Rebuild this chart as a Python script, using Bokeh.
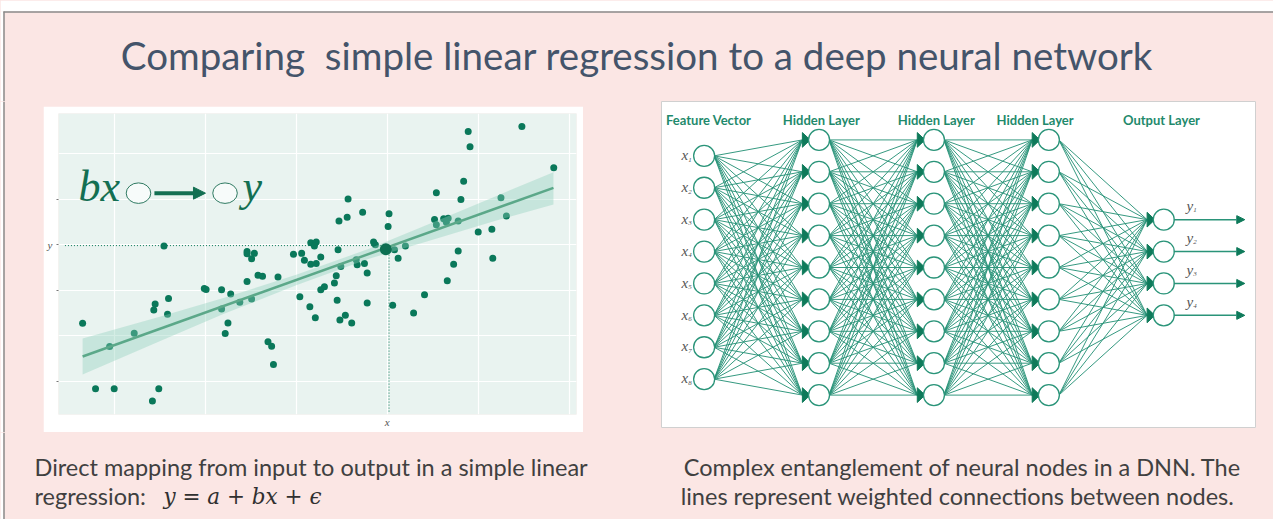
import numpy as np
from bokeh.plotting import figure
from bokeh.models import Range1d, FixedTicker, ColumnDataSource, Arrow, NormalHead, Spacer
from bokeh.layouts import column, row
from bokeh.core.properties import value
from bokeh.embed import file_html
from bokeh.resources import INLINE

# ---------------- data ----------------
title_text = "Comparing\u00a0 simple linear regression to a deep neural network"
caption_left_1 = "Direct mapping from input to output in a simple linear"
caption_left_2 = "regression: "
caption_left_math = "y = a + bx + \u03f5"
caption_right_1 = "Complex entanglement of neural nodes in a DNN. The"
caption_right_2 = "lines represent weighted connections between nodes."

scatter_x = [0.653, 0.795, 1.0, 0.95, 1.22, 1.42, 1.49, 1.435, 1.45, 1.547,
             1.597, 1.586, 1.99, 2.01, 2.18, 2.28, 2.18, 2.38, 2.25, 2.22,
             2.46, 2.51, 2.46, 2.46, 2.54, 2.51, 2.58, 2.63, 2.80, 2.69,
             2.73, 2.75, 2.97, 3.06, 3.09, 3.16, 3.22, 3.27, 3.16, 3.22,
             3.20, 3.04, 3.15, 3.21, 3.27, 3.31, 3.42, 3.44, 3.49, 3.46,
             3.45, 3.48, 3.54, 3.61, 3.47, 3.56, 3.57, 3.73, 3.66, 3.67,
             3.75, 3.78, 3.78, 3.85, 3.87, 4.02, 4.01, 4.08, 4.12, 4.06,
             4.20, 4.29, 4.41, 4.52, 4.54, 4.62, 4.67, 4.65, 4.54, 4.78,
             4.66, 4.73, 4.78, 4.81, 4.84, 4.89, 4.91, 5.0, 5.15, 5.16,
             5.25, 5.31, 5.48, 5.83]
scatter_y = [1.279, -0.161, -0.161, 0.767, 1.06, -0.43, -0.16, 1.57, 1.70, 2.97,
             1.82, 1.476, 2.04, 2.02, 2.01, 1.92, 1.59, 1.74, 1.28, 1.05,
             2.19, 1.81, 2.85, 2.80, 2.81, 2.69, 2.33, 2.31, 2.29, 0.87,
             0.77, 0.37, 2.79, 2.81, 2.66, 2.57, 2.59, 2.73, 3.04, 3.06,
             2.97, 1.86, 1.64, 1.40, 2.01, 2.08, 2.16, 2.32, 2.52, 2.89,
             1.78, 1.35, 1.45, 1.28, 3.52, 3.60, 4.0, 3.71, 2.67, 2.56,
             2.59, 2.38, 1.72, 3.06, 3.0, 3.68, 3.40, 2.89, 2.70, 1.67,
             2.97, 1.50, 1.90, 3.55, 3.44, 3.57, 3.58, 3.49, 4.14, 3.52,
             2.21, 2.57, 2.86, 3.99, 4.39, 5.48, 5.15, 3.28, 3.34, 2.70,
             4.03, 3.63, 5.59, 4.69]

fit_x = [0.653, 5.827]
fit_y = [0.548, 4.247]

band_x = [0.653, 1.5, 2.2, 3.0, 3.8, 4.6, 5.2, 5.827]
band_lo = [0.154, 0.88, 1.48, 2.11, 2.69, 3.17, 3.53, 3.88]
band_hi = [0.943, 1.42, 1.83, 2.34, 2.91, 3.57, 4.07, 4.59]

focus_x = [3.985]
focus_y = [2.90]
cross_x = 4.02
cross_y = 2.98

y_ticks = [0, 2, 3, 4]
y_tick_labels = {0: "", 2: "", 3: "y", 4: ""}
x_ticks = [4]
x_tick_labels = {4: "x"}
grid_x = [1, 2, 3, 4, 5, 6]
grid_y = [0, 1, 2, 3, 4, 5]

layer_sizes = [8, 9, 9, 9, 4]
layer_names = ["Feature Vector", "Hidden Layer", "Hidden Layer", "Hidden Layer", "Output Layer"]
layer_name_shift = [0.04, 0.02, 0.02, -0.12, -0.02]
input_subscripts = ["1", "2", "3", "4", "5", "6", "7", "8"]
output_subscripts = ["1", "2", "3", "4"]

# ---------------- styles ----------------
PINK = "#fbe6e4"
TEAL = "#2a9479"
DARK = "#0e7a5a"
TXT = "#404040"
BORDER = "#8a8a8a"
LIFT = 0.32   # em; compensates where the renderer puts the alphabetic baseline

def lift(px):
    return -round(LIFT * px, 1)

def blank(width, height, xr, yr, bg):
    p = figure(width=width, height=height, x_range=xr, y_range=yr,
               x_axis_type=None, y_axis_type=None, toolbar_location=None,
               output_backend="svg", min_border=0, outline_line_color=None,
               background_fill_color=bg, border_fill_color=bg)
    return p

def left_edge(p, y0, y1):
    p.quad(left=[0], right=[3], top=[y0], bottom=[y1], fill_color="white", line_color=None)
    p.line([3.5, 3.5], [y0, y1], line_color=BORDER, line_width=1.5)

# ---------------- header ----------------
head = blank(1273, 101, Range1d(0, 1273), Range1d(101, 0), PINK)
head.quad(left=[0], right=[1273], top=[0], bottom=[11], fill_color="white", line_color=None)
left_edge(head, 11, 101)
head.line([3, 1273], [11.5, 11.5], line_color=BORDER, line_width=1.5)
head.text(x=[636.5], y=[66.7], text=[title_text], text_font=value("Lato"),
          text_font_size="38.5px", text_color="#44546a", text_align="center",
          text_baseline="alphabetic", y_offset=lift(38.5))

# ---------------- scatter panel ----------------
sc = figure(width=540, height=326, x_range=Range1d(0.388, 6.080), y_range=Range1d(-0.724, 5.877),
            toolbar_location=None, output_backend="svg",
            min_border_left=15, min_border_right=7, min_border_top=7, min_border_bottom=18,
            background_fill_color="#e9f3f0", border_fill_color="white", outline_line_color=None)
sc.xgrid.ticker = FixedTicker(ticks=grid_x)
sc.ygrid.ticker = FixedTicker(ticks=grid_y)
sc.grid.grid_line_color = "white"
sc.grid.grid_line_width = 1.2
for ax, ticks, labels in ((sc.yaxis[0], y_ticks, y_tick_labels), (sc.xaxis[0], x_ticks, x_tick_labels)):
    ax.ticker = FixedTicker(ticks=ticks)
    ax.major_label_overrides = labels
    ax.axis_line_color = None
    ax.minor_tick_line_color = None
    ax.major_tick_in = 0
    ax.major_tick_line_color = "#777777"
    ax.major_label_text_font = "Liberation Serif"
    ax.major_label_text_font_style = "italic"
    ax.major_label_text_font_size = "11px"
    ax.major_label_text_color = "#555555"
sc.yaxis[0].major_tick_out = 2
sc.yaxis[0].major_label_standoff = 4
sc.xaxis[0].major_tick_out = 0
sc.xaxis[0].major_label_standoff = 1

sc.line([0.459, cross_x], [cross_y, cross_y], line_color=DARK, line_width=1, line_dash="1 2")
sc.line([cross_x, cross_x], [cross_y, -0.70], line_color=DARK, line_width=1, line_dash="1 2")
sc.scatter(scatter_x, scatter_y, size=7, fill_color="#0a785a", line_color=None)
sc.varea(x=band_x, y1=band_lo, y2=band_hi, fill_color="#8fd0bb", fill_alpha=0.38)
sc.line(fit_x, fit_y, line_color="#5ba889", line_width=2.5)
sc.scatter(focus_x, focus_y, size=12, fill_color="#0d6f52", line_color=None)

# "bx -> y" annotation
sc.text(x=[0.608], y=[3.97], text=["bx"], text_font=value("Liberation Serif"), text_font_style="italic",
        text_font_size="44px", text_color="#136f52", text_baseline="alphabetic", y_offset=lift(44))
sc.ellipse(x=[1.267, 2.218], y=[4.13, 4.13], width=0.27, height=0.45,
           fill_color="#f7fbfa", line_color="#2f7a62", line_width=1)
sc.add_layout(Arrow(end=NormalHead(size=12, fill_color="#136f52", line_color="#136f52"),
                    x_start=1.442, y_start=4.13, x_end=2.003, y_end=4.13,
                    line_color="#136f52", line_width=4))
sc.text(x=[2.41], y=[3.97], text=["y"], text_font=value("Liberation Serif"), text_font_style="italic",
        text_font_size="44px", text_color="#136f52", text_baseline="alphabetic", y_offset=lift(44))

# ---------------- neural network panel ----------------
nn = figure(width=595, height=327, x_range=Range1d(-0.371, 4.807), y_range=Range1d(-5.047, 5.204),
            x_axis_type=None, y_axis_type=None, toolbar_location=None, output_backend="svg",
            min_border=0, outline_line_color="#d0d0d0", background_fill_color="white",
            border_fill_color="white")
R = 10 / 114.9      # node radius in layer units
TIP = 0.145         # where incoming lines meet the arrowheads

layer_nodes = [[(n - 1) / 2 - i for i in range(n)] for n in layer_sizes]
x0s, y0s, x1s, y1s = [], [], [], []
for l in range(len(layer_sizes) - 1):
    for ya in layer_nodes[l]:
        for yb in layer_nodes[l + 1]:
            x0s.append(l + R); y0s.append(ya)
            x1s.append(l + 1 - TIP); y1s.append(yb)
nn.segment(x0=x0s, y0=y0s, x1=x1s, y1=y1s, line_color=TEAL, line_width=1, line_alpha=0.95)

wx, wy = [], []
for l in range(1, len(layer_sizes)):
    for yb in layer_nodes[l]:
        wx.append([l - TIP, l - TIP, l - R + 0.01])
        wy.append([yb + 0.23, yb - 0.23, yb])
nn.patches(wx, wy, fill_color=DARK, line_color=DARK, line_width=1)

nx = [l for l, ys in enumerate(layer_nodes) for _ in ys]
ny = [y for ys in layer_nodes for y in ys]
nn.scatter(nx, ny, size=21, fill_color="white", line_color=TEAL, line_width=1.3)

out_l = len(layer_sizes) - 1
arrow_src = ColumnDataSource(dict(x0=[out_l + R] * layer_sizes[-1], x1=[out_l + 0.705] * layer_sizes[-1],
                                  y=layer_nodes[-1]))
nn.add_layout(Arrow(end=NormalHead(size=8, fill_color=DARK, line_color=DARK), source=arrow_src,
                    x_start="x0", y_start="y", x_end="x1", y_end="y", line_color=TEAL, line_width=1.5))

nn.text(x=[l + s for l, s in enumerate(layer_name_shift)], y=[4.50] * len(layer_names), text=layer_names,
        text_font=value("Lato"), text_font_style="bold", text_font_size="13px", text_color="#1f8a6c",
        text_align="center", text_baseline="alphabetic", y_offset=lift(13))

nn.text(x=[-0.139] * layer_sizes[0], y=layer_nodes[0], text=["x"] * layer_sizes[0],
        text_font=value("Liberation Serif"), text_font_style="italic", text_font_size="15px",
        text_color="#555555", text_align="right", text_baseline="alphabetic", y_offset=4 + lift(15))
nn.text(x=[-0.139] * layer_sizes[0], y=layer_nodes[0], text=input_subscripts,
        text_font=value("Liberation Serif"), text_font_style="italic", text_font_size="7px",
        text_color="#555555", text_align="left", text_baseline="alphabetic", y_offset=6 + lift(7))
nn.text(x=[out_l + 0.198] * layer_sizes[-1], y=layer_nodes[-1], text=["y"] * layer_sizes[-1],
        text_font=value("Liberation Serif"), text_font_style="italic", text_font_size="15px",
        text_color="#555555", text_align="left", text_baseline="alphabetic", y_offset=-9 + lift(15))
nn.text(x=[out_l + 0.256] * layer_sizes[-1], y=layer_nodes[-1], text=output_subscripts,
        text_font=value("Liberation Serif"), text_font_style="italic", text_font_size="7px",
        text_color="#555555", text_align="left", text_baseline="alphabetic", y_offset=-7 + lift(7))

# ---------------- captions ----------------
foot = blank(1273, 87, Range1d(0, 1273), Range1d(519, 432), PINK)
left_edge(foot, 432, 519)
foot.text(x=[34, 34], y=[474, 502.5], text=[caption_left_1, caption_left_2], text_font=value("Lato"),
          text_font_size="23.5px", text_color=TXT, text_baseline="alphabetic", y_offset=lift(23.5))
foot.text(x=[163], y=[502.5], text=[caption_left_math], text_font=value("DejaVu Serif"),
          text_font_style="italic", text_font_size="21.5px", text_color="#303030",
          text_baseline="alphabetic", y_offset=lift(21.5))
foot.text(x=[962, 957], y=[474, 502.5], text=[caption_right_1, caption_right_2], text_font=value("Lato"),
          text_font_size="23.5px", text_color=TXT, text_align="center", text_baseline="alphabetic",
          y_offset=lift(23.5))

# ---------------- layout ----------------
lpad = blank(43, 331, Range1d(0, 43), Range1d(432, 101), PINK)
left_edge(lpad, 101, 432)

middle = row(
    lpad,
    column(Spacer(width=540, height=5), sc),
    Spacer(width=78, height=331),
    column(nn, Spacer(width=595, height=4)),
    Spacer(width=17, height=331),
)
page = column(head, middle, foot, styles={"background-color": PINK})

open("out.html", "w").write(file_html(page, INLINE))
